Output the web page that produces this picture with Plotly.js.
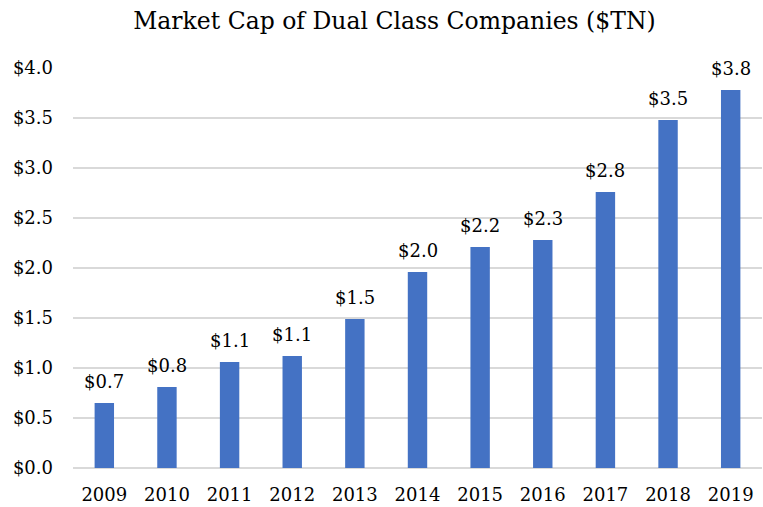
<!DOCTYPE html>
<html>
<head>
<meta charset="utf-8">
<script src="https://cdn.plot.ly/plotly-3.0.1.min.js"></script>
<style>html,body{margin:0;padding:0;background:#fff;}#chart{width:763px;height:507px;}</style>
</head>
<body>
<div id="chart"></div>
<script>
const years = ['2009','2010','2011','2012','2013','2014','2015','2016','2017','2018','2019'];
const marketCap = [0.65, 0.81, 1.06, 1.12, 1.49, 1.96, 2.21, 2.28, 2.76, 3.48, 3.78];
const yTickVals = [0, 0.5, 1, 1.5, 2, 2.5, 3, 3.5, 4];
const yTickText = ['$0.0','$0.5','$1.0','$1.5','$2.0','$2.5','$3.0','$3.5','$4.0'];
const chartTitle = 'Market Cap of Dual Class Companies ($TN)';

const FONT = 'DejaVu Serif, Liberation Serif, serif';

const trace = {
  type: 'bar',
  x: years,
  y: marketCap,
  marker: {color: '#4472C4'},
  hoverinfo: 'none'
};

const annotations = years.map((yr, i) => ({
  x: i, y: marketCap[i], xref: 'x', yref: 'y',
  text: '$' + marketCap[i].toFixed(1),
  showarrow: false, yanchor: 'bottom', yshift: 9,
  font: {family: FONT, size: 18, color: '#000'}
}));

const layout = {
  width: 763, height: 507,
  margin: {l: 73, r: 1, t: 68, b: 39},
  paper_bgcolor: '#fff', plot_bgcolor: '#fff',
  title: {text: chartTitle, font: {family: FONT, size: 23.5, color: '#000'}, x: 0.517, xref: 'container', xanchor: 'center', y: 0.96, yanchor: 'middle'},
  bargap: 0.69,
  showlegend: false,
  xaxis: {
    type: 'category',
    range: [-0.5, years.length - 0.5],
    tickfont: {family: FONT, size: 18, color: '#000'},
    showgrid: false, showline: false, zeroline: false,
    ticks: '', ticklabelstandoff: 14
  },
  yaxis: {
    range: [0, 4],
    tickvals: yTickVals, ticktext: yTickText,
    tickfont: {family: FONT, size: 18, color: '#000'},
    showgrid: true, gridcolor: '#d9d9d9', gridwidth: 1.5,
    zeroline: true, zerolinecolor: '#d9d9d9', zerolinewidth: 1.5,
    showline: false, ticks: '', ticklabelstandoff: 19
  },
  annotations: annotations
};

Plotly.newPlot('chart', [trace], layout, {displayModeBar: false, staticPlot: true});
</script>
</body>
</html>
